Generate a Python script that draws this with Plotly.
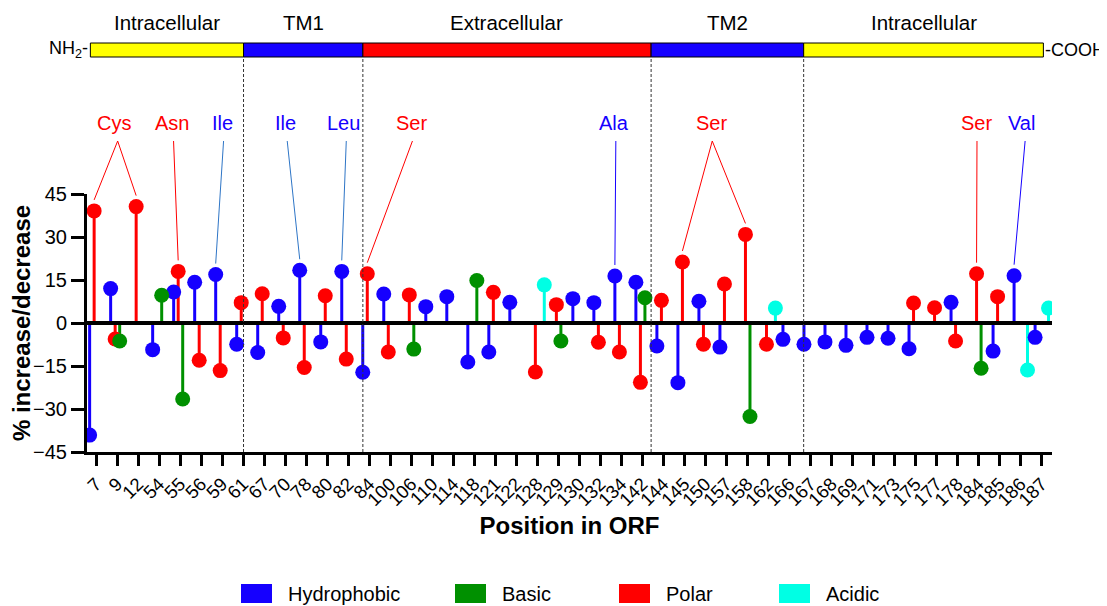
import plotly.graph_objects as go

# ---------------- data ----------------
positions = ["7", "9", "12", "54", "55", "56", "59", "61", "67", "70", "78", "80", "82", "84",
             "100", "106", "110", "114", "118", "121", "122", "128", "129", "130", "132", "134",
             "142", "144", "145", "150", "157", "158", "162", "166", "167", "168", "169", "171",
             "173", "175", "177", "178", "184", "185", "186", "187"]

hydrophobic_pos = ["7", "9", "54", "55", "56", "59", "61", "67", "70", "78", "80", "82", "84",
                   "100", "110", "114", "118", "121", "122", "130", "132", "134", "142", "144",
                   "145", "150", "157", "166", "167", "168", "169", "171", "173", "175", "178",
                   "185", "186", "187"]
hydrophobic_val = [-39.1, 12.0, -9.3, 10.8, 14.2, 16.9, -7.4, -10.3, 5.8, 18.4, -6.6, 18.0, -17.2,
                   10.1, 5.7, 9.2, -13.6, -10.1, 7.2, 8.5, 7.1, 16.4, 14.2, -8.0,
                   -20.8, 7.6, -8.4, -5.7, -7.4, -6.6, -7.8, -5.0, -5.3, -9.0, 7.2,
                   -9.8, 16.5, -5.0]

polar_pos = ["7", "9", "12", "55", "56", "59", "61", "67", "70", "78", "80", "82", "84", "100",
             "106", "121", "128", "129", "132", "134", "142", "144", "145", "150", "157", "158",
             "162", "175", "177", "178", "184", "185"]
polar_val = [39.1, -5.6, 40.6, 18.0, -13.0, -16.6, 7.1, 10.2, -5.2, -15.5, 9.5, -12.6, 17.2, -10.1,
             9.8, 10.7, -17.1, 6.4, -6.7, -10.1, -20.7, 7.9, 21.3, -7.4, 13.6, 30.9,
             -7.4, 7.0, 5.3, -6.3, 17.2, 9.2]

basic_pos = ["9", "54", "55", "106", "118", "129", "142", "158", "184"]
basic_val = [-6.3, 9.7, -26.5, -9.1, 14.8, -6.3, 8.8, -32.6, -15.8]

acidic_pos = ["128", "162", "186", "187"]
acidic_val = [13.3, 5.2, -16.4, 5.2]

series_names = ["Hydrophobic", "Polar", "Basic", "Acidic"]
legend_order = ["Hydrophobic", "Basic", "Polar", "Acidic"]

# protein topology (segment boundaries expressed on the position axis)
domain_names = ["Intracellular", "TM1", "Extracellular", "TM2", "Intracellular"]
domain_bounds = [-0.27, 7.02, 12.70, 26.42, 33.68, 45.09]

# call-out labels: text, series, label centre on axis, leader start on axis, targets
callout_text = ["Cys", "Asn", "Ile", "Ile", "Leu", "Ser", "Ala", "Ser", "Ser", "Val"]
callout_series = ["Polar", "Polar", "Hydrophobic", "Hydrophobic", "Hydrophobic", "Polar",
                  "Hydrophobic", "Polar", "Polar", "Hydrophobic"]
callout_label_x = [0.87, 3.62, 6.02, 9.0, 11.78, 15.03, 24.66, 29.27, 41.91, 44.05]
callout_line_x = [1.03, 3.69, 6.07, 9.10, 11.91, 15.06, 24.74, 29.33, 41.93, 44.22]
callout_targets = [["7", "12"], ["55"], ["59"], ["78"], ["82"], ["84"], ["134"], ["145", "158"],
                   ["184"], ["186"]]

# ---------------- styles ----------------
FONT = "Arial, Liberation Sans, sans-serif"
colors = {"Hydrophobic": "#1500FF", "Basic": "#009000", "Polar": "#FF0000", "Acidic": "#00FFE4"}
offsets = {"Hydrophobic": -0.305, "Polar": -0.09, "Basic": 0.125, "Acidic": 0.335}
leader_override = {2: "#2E75C6", 3: "#2E75C6", 4: "#2E75C6"}
domain_colors = ["#FFFF00", "#1500FF", "#FF0000", "#1500FF", "#FFFF00"]
Y_RANGE = [-45, 45]
X_RANGE = [-0.43, 45.5]

data = {
    "Hydrophobic": (hydrophobic_pos, hydrophobic_val),
    "Polar": (polar_pos, polar_val),
    "Basic": (basic_pos, basic_val),
    "Acidic": (acidic_pos, acidic_val),
}
idx = {p: i for i, p in enumerate(positions)}

fig = go.Figure()

for name in series_names:
    pos, val = data[name]
    xs = [idx[p] + offsets[name] for p in pos]
    sx, sy = [], []
    for x, v in zip(xs, val):
        sx += [x, x, None]
        sy += [0, v, None]
    fig.add_trace(go.Scatter(x=sx, y=sy, mode="lines", line=dict(color=colors[name], width=3),
                             hoverinfo="skip", showlegend=False))
for name in series_names:
    pos, val = data[name]
    xs = [idx[p] + offsets[name] for p in pos]
    fig.add_trace(go.Scatter(x=xs, y=val, mode="markers", name=name, text=pos,
                             marker=dict(color=colors[name], size=15, line=dict(width=0)),
                             showlegend=False))

shapes = []
annotations = []

# page geometry (page body has an 8px margin)
PAGE_OFF = 8
L, W, T, H = 87, 965, 194, 258
def px(xp):
    return (xp - L) / W
def py(yp):
    return (T + H - yp) / H
def yfrac(v):
    return (v - Y_RANGE[0]) / (Y_RANGE[1] - Y_RANGE[0])

# zero line
shapes.append(dict(type="line", xref="paper", yref="y", x0=0, x1=1, y0=0, y1=0,
                   line=dict(color="black", width=4), layer="above"))

# topology bar + dashed separators
BAR_Y0, BAR_Y1 = py(57), py(43)
for i, dname in enumerate(domain_names):
    x0, x1 = domain_bounds[i], domain_bounds[i + 1]
    shapes.append(dict(type="rect", xref="x", yref="paper", x0=x0, x1=x1, y0=BAR_Y0, y1=BAR_Y1,
                       fillcolor=domain_colors[i], line=dict(color="black", width=1)))
    annotations.append(dict(text=dname, xref="x", yref="paper", x=(x0 + x1) / 2, y=py(23),
                            xanchor="center", yanchor="middle", showarrow=False,
                            font=dict(family=FONT, size=20.5, color="black")))
for b in domain_bounds[1:-1]:
    shapes.append(dict(type="line", xref="x", yref="paper", x0=b, x1=b, y0=0, y1=BAR_Y0,
                       line=dict(color="#333333", width=1, dash="3px,2px")))

annotations.append(dict(text="NH<sub>2</sub>-", xref="x", yref="paper", x=domain_bounds[0],
                        y=py(50), xanchor="right", yanchor="middle", showarrow=False,
                        font=dict(family=FONT, size=18, color="black")))
annotations.append(dict(text="-COOH", xref="x", yref="paper", x=domain_bounds[-1],
                        y=py(50), xanchor="left", yanchor="middle", showarrow=False,
                        font=dict(family=FONT, size=18, color="black")))

# call-outs: label text + leader lines to the marked points
for k, text in enumerate(callout_text):
    sname = callout_series[k]
    col = colors[sname]
    lcol = leader_override.get(k, col)
    annotations.append(dict(text=text, xref="x", yref="paper", x=callout_label_x[k], y=py(123),
                            xanchor="center", yanchor="middle", showarrow=False,
                            font=dict(family=FONT, size=20, color=col)))
    pos, val = data[sname]
    for p in callout_targets[k]:
        v = val[pos.index(p)]
        x = idx[p] + offsets[sname]
        shapes.append(dict(type="line", xref="x", yref="paper",
                           x0=callout_line_x[k], y0=py(141), x1=x, y1=yfrac(v) + 11 / H,
                           line=dict(color=lcol, width=1)))

# manual legend (rectangular swatches)
leg_x = {"Hydrophobic": 241, "Basic": 455, "Polar": 619, "Acidic": 779}
for name in legend_order:
    x0 = leg_x[name]
    shapes.append(dict(type="rect", xref="paper", yref="paper", x0=px(x0), x1=px(x0 + 31),
                       y0=py(603), y1=py(584), fillcolor=colors[name], line=dict(width=0)))
    annotations.append(dict(text=name, xref="paper", yref="paper", x=px(x0 + 45), y=py(594),
                            xanchor="left", yanchor="middle", showarrow=False,
                            font=dict(family=FONT, size=20, color="black")))

fig.update_layout(
    width=1107 - PAGE_OFF, height=606 - PAGE_OFF, autosize=False,
    margin=dict(l=L - PAGE_OFF, r=1107 - L - W, t=T - PAGE_OFF, b=606 - T - H),
    plot_bgcolor="white", paper_bgcolor="white",
    font=dict(family=FONT, color="black"),
    shapes=shapes, annotations=annotations, showlegend=False,
    xaxis=dict(range=X_RANGE, tickmode="array", tickvals=list(range(len(positions))),
               ticktext=positions, tickangle=-45, ticks="outside", ticklen=11, tickwidth=2.5,
               tickcolor="black", showline=True, linewidth=3, linecolor="black",
               showgrid=False, zeroline=False, automargin=False,
               tickfont=dict(family=FONT, size=18.5, color="black"),
               title=dict(text="<b>Position in ORF</b>", standoff=9,
                          font=dict(family=FONT, size=24, color="black"))),
    yaxis=dict(range=Y_RANGE, tickvals=[-45, -30, -15, 0, 15, 30, 45], ticks="outside",
               ticklen=13, tickwidth=2.5, tickcolor="black", showline=True, linewidth=3,
               linecolor="black", showgrid=False, zeroline=False, automargin=False,
               tickfont=dict(family=FONT, size=20, color="black"),
               title=dict(text="<b>% increase/decrease</b>", standoff=8,
                          font=dict(family=FONT, size=24, color="black"))),
)

fig.write_html("out.html")
